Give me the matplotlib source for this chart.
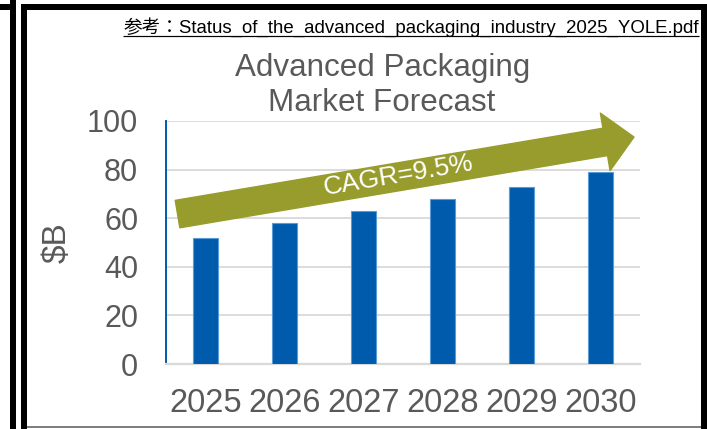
import numpy as np
import matplotlib
matplotlib.use("Agg")
import matplotlib.pyplot as plt
from matplotlib.lines import Line2D

plt.rcParams['font.family'] = ['Liberation Sans', 'Noto Sans CJK JP', 'DejaVu Sans']

# market size in $B per year
years = ['2025', '2026', '2027', '2028', '2029', '2030']
market = [52, 58, 63, 68, 73, 79]
yticks = [0, 20, 40, 60, 80, 100]
cagr_label = 'CAGR=9.5%'
title_lines = ['Advanced Packaging', 'Market Forecast']
source = '参考：Status_of_the_advanced_packaging_industry_2025_YOLE.pdf'

W, H = 707, 429
GRAY = '#595959'
BLUE = '#005BAC'
OLIVE = '#979C2D'

fig = plt.figure(figsize=(W / 100, H / 100), dpi=100)
fig.patch.set_facecolor('white')


# helpers to place things in pixel terms (origin top-left)
def fx(px):
    return px / W


def fy(py):
    return 1 - py / H


def px_line(x0, y0, x1, y1, lw_px, color='black'):
    fig.add_artist(Line2D([fx(x0), fx(x1)], [fy(y0), fy(y1)], transform=fig.transFigure,
                          color=color, linewidth=lw_px * 0.72, solid_capstyle='butt'))


ax = fig.add_axes([fx(166), fy(364), fx(640) - fx(166), fy(121) - fy(364)])
x = np.arange(len(years))
ax.bar(x, market, width=0.32, color=BLUE, edgecolor='#5B9BD5', linewidth=0.8, zorder=3)

ax.set_xlim(-0.5, len(years) - 0.5)
ax.set_ylim(0, 100)
ax.set_yticks(yticks)
ax.set_xticks(x)
ax.set_xticklabels(years)
ax.set_axisbelow(True)
ax.yaxis.grid(True, color='#D9D9D9', linewidth=1.3)
ax.xaxis.grid(False)
for s in ['top', 'right']:
    ax.spines[s].set_visible(False)
ax.spines['left'].set_color(BLUE)
ax.spines['left'].set_linewidth(1.4)
ax.spines['bottom'].set_color('#D9D9D9')
ax.spines['bottom'].set_linewidth(1.6)
ax.tick_params(axis='y', length=0, labelsize=22, colors=GRAY, pad=20)
ax.tick_params(axis='x', length=0, labelsize=23.5, colors=GRAY, pad=17)

# growth arrow over the bars
tail = (-0.354, 61.7)
tip = (5.424, 93.4)
ax.annotate('', xy=tip, xytext=tail,
            arrowprops=dict(arrowstyle='simple,head_length=2.1,head_width=4.2,tail_width=2.0',
                            color=OLIVE, shrinkA=0, shrinkB=0, mutation_scale=10),
            zorder=4)
p0 = ax.transData.transform(tail)
p1 = ax.transData.transform(tip)
angle = np.degrees(np.arctan2(p1[1] - p0[1], p1[0] - p0[0]))
ax.text(2.44, 77.5, cagr_label, rotation=angle, rotation_mode='anchor',
        ha='center', va='center', fontsize=19, color='white', zorder=5)

# title and axis label
fig.text(fx(383), fy(76), title_lines[0], ha='center', va='baseline', fontsize=22.6, color=GRAY)
fig.text(fx(382), fy(111), title_lines[1], ha='center', va='baseline', fontsize=22.6, color=GRAY)
fig.text(fx(57), fy(243), '$B', rotation=90, ha='center', va='center', fontsize=24, color=GRAY)

# underlined source note
note = fig.text(fx(699), fy(33), source, ha='right', va='baseline', fontsize=13.4, color='black')
fig.canvas.draw()
bb = note.get_window_extent()
px_line(bb.x0, 36, bb.x1, 36, 1.2)

# panel frames
px_line(13, 0, 13, H, 6)
px_line(0, 7, 16, 7, 6)
px_line(24, 4, 24, H, 6)
px_line(21, 7, W, 7, 6)
px_line(704, 4, 704, H, 6)
px_line(27, 427, 701, 427, 2, color='#7F7F7F')

fig.savefig('out.png', dpi=100, facecolor='white')
